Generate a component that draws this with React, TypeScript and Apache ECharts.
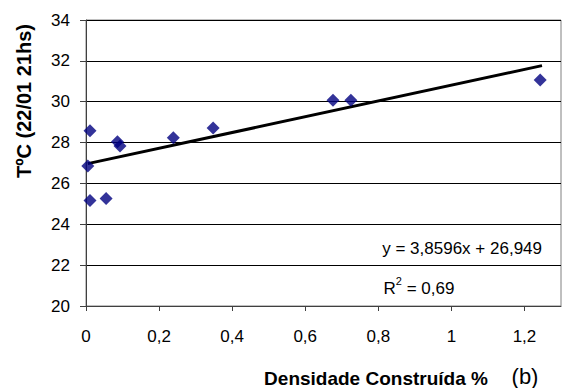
import React, { useEffect, useRef } from "react";
import * as echarts from "echarts";

const densidade: number[] = [0.011, 0.005, 0.086, 0.093, 0.239, 0.348, 0.011, 0.055, 0.676, 0.725, 1.243];
const temperatura: number[] = [28.58, 26.85, 28.04, 27.83, 28.24, 28.71, 25.16, 25.26, 30.07, 30.07, 31.06];
const trendSlope = 3.8596;
const trendIntercept = 26.949;
const trendX: number[] = [0.005, 1.248];
const equationText = "y = 3,8596x + 26,949";
const r2Value = "0,69";
const xTitle = "Densidade Construída %";
const yTitle = "TºC (22/01 21hs)";
const panelTag = "(b)";

const FONT = 'Arial, "Liberation Sans", sans-serif';

export default function App() {
  const ref = useRef<HTMLDivElement>(null);
  useEffect(() => {
    if (!ref.current) return;
    const chart = echarts.init(ref.current, undefined, { renderer: "svg" });
    const points = densidade.map((x, i) => [x, temperatura[i]]);
    const trend = trendX.map((x) => [x, trendSlope * x + trendIntercept]);
    chart.setOption({
      animation: false,
      backgroundColor: "#ffffff",
      grid: { left: 86, right: 13, top: 20, bottom: 82, show: true, borderColor: "#808080", borderWidth: 1 },
      xAxis: {
        type: "value",
        min: 0,
        max: 1.3,
        interval: 0.2,
        axisLine: { show: true, onZero: false, lineStyle: { color: "#404040", width: 1 } },
        axisTick: { show: true, inside: false, length: 5, lineStyle: { color: "#404040" } },
        splitLine: { show: false },
        axisLabel: {
          showMaxLabel: false,
          margin: 22,
          fontSize: 17,
          fontFamily: FONT,
          color: "#000",
          formatter: (v: number) => (Math.abs(v / 0.2 - Math.round(v / 0.2)) > 1e-6 ? "" : String(Math.round(v * 10) / 10).replace(".", ",")),
        },
      },
      yAxis: {
        type: "value",
        min: 20,
        max: 34,
        interval: 2,
        axisLine: { show: true, onZero: false, lineStyle: { color: "#404040", width: 1 } },
        axisTick: { show: true, inside: false, length: 6, lineStyle: { color: "#404040" } },
        splitLine: { show: true, lineStyle: { color: "#000", width: 1 } },
        axisLabel: { margin: 16, fontSize: 17, fontFamily: FONT, color: "#000" },
      },
      series: [
        {
          type: "line",
          data: trend,
          symbol: "none",
          lineStyle: { color: "#000", width: 3 },
          z: 2,
        },
        {
          type: "scatter",
          data: points,
          symbol: "diamond",
          symbolSize: 13,
          itemStyle: { color: "#000080" },
          z: 3,
        },
      ],
      graphic: [
        {
          type: "text",
          x: 542,
          y: 248,
          style: { text: equationText, fill: "#000", font: `17px ${FONT}`, align: "right", verticalAlign: "middle" },
        },
        {
          type: "text",
          x: 419,
          y: 286,
          style: {
            text: `{b|R}{s|2}{b| = ${r2Value}}`,
            align: "center",
            verticalAlign: "middle",
            rich: {
              b: { fontSize: 17, fontFamily: FONT, fill: "#000", lineHeight: 22, verticalAlign: "bottom" },
              s: { fontSize: 11, fontFamily: FONT, fill: "#000", lineHeight: 22, verticalAlign: "top" },
            },
          },
        },
        {
          type: "text",
          x: 376,
          y: 378,
          style: { text: xTitle, fill: "#000", font: `bold 19px ${FONT}`, align: "center", verticalAlign: "middle" },
        },
        {
          type: "text",
          x: 525,
          y: 376,
          style: { text: panelTag, fill: "#000", font: `22px ${FONT}`, align: "center", verticalAlign: "middle" },
        },
        {
          type: "text",
          x: 24,
          y: 101,
          rotation: Math.PI / 2,
          style: { text: yTitle, fill: "#000", font: `bold 20px ${FONT}`, align: "center", verticalAlign: "middle" },
        },
      ],
    });
    return () => chart.dispose();
  }, []);
  return <div ref={ref} style={{ position: "absolute", left: 0, top: 0, width: 574, height: 388 }} />;
}
